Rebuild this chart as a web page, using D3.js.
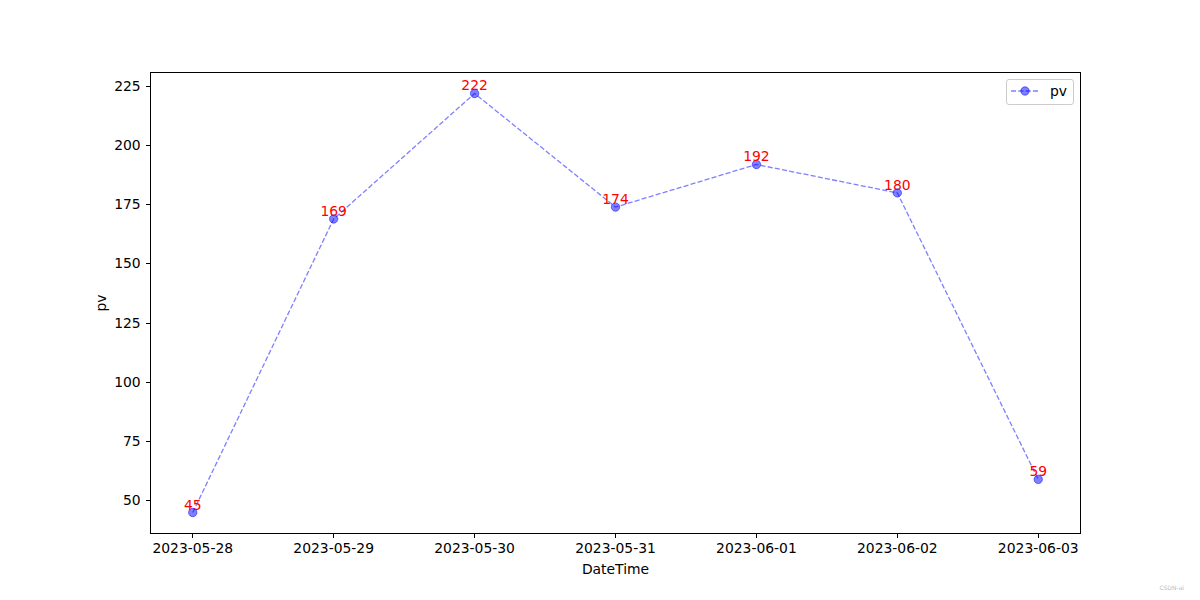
<!DOCTYPE html>
<html><head><meta charset="utf-8">
<script src="https://d3js.org/d3.v7.min.js"></script>
<style>body{margin:0;background:#fff}svg{display:block}text{font-family:"DejaVu Sans",sans-serif}</style>
</head><body>
<script>
const dates = ["2023-05-28","2023-05-29","2023-05-30","2023-05-31","2023-06-01","2023-06-02","2023-06-03"];
const pv = [45,169,222,174,192,180,59];
const yTicks = [50,75,100,125,150,175,200,225];
const seriesName = "pv";

const W=1200,H=600;
const L=150.5,R=1080.5,T=72.5,B=533.5;
const fs=13.9;
const svg=d3.select("body").append("svg").attr("width",W).attr("height",H);
const x=d3.scaleLinear().domain([-0.3,dates.length-1+0.3]).range([L,R]);
const ymin=d3.min(pv),ymax=d3.max(pv),pad=(ymax-ymin)*0.05;
const y=d3.scaleLinear().domain([ymin-pad,ymax+pad]).range([B,T]);

const xAxis=d3.axisBottom(x).tickValues(d3.range(dates.length)).tickFormat(i=>dates[i]).tickSize(4.9).tickPadding(4.9).offset(0);
const gx=svg.append("g").attr("transform",`translate(0,${B})`).call(xAxis);
const yAxis=d3.axisLeft(y).tickValues(yTicks).tickSize(4.9).tickPadding(4.9).offset(0);
const gy=svg.append("g").attr("transform",`translate(${L},0)`).call(yAxis);
[gx,gy].forEach(g=>{g.select(".domain").remove();g.selectAll("text").attr("font-size",fs).attr("fill","#000").attr("font-family","DejaVu Sans");g.selectAll("line").attr("stroke","#000").attr("stroke-width",1).attr("shape-rendering","crispEdges");});

svg.append("rect").attr("x",L).attr("y",T).attr("width",R-L).attr("height",B-T).attr("fill","none").attr("stroke","#000").attr("stroke-width",1).attr("shape-rendering","crispEdges");

const line=d3.line().x((d,i)=>x(i)).y(d=>y(d));
svg.append("path").datum(pv).attr("d",line).attr("fill","none").attr("stroke","blue").attr("stroke-opacity",0.5).attr("stroke-width",1.3).attr("stroke-dasharray","5.1,2.2");
svg.selectAll("circle.pt").data(pv).enter().append("circle").attr("class","pt").attr("cx",(d,i)=>x(i)).attr("cy",d=>y(d)).attr("r",4.2).attr("fill","blue").attr("fill-opacity",0.5).attr("stroke","blue").attr("stroke-opacity",0.5).attr("stroke-width",1);
svg.selectAll("text.lbl").data(pv).enter().append("text").attr("class","lbl").attr("x",(d,i)=>x(i)).attr("y",d=>y(d)-3).attr("text-anchor","middle").attr("font-size",fs).attr("fill","red").text(d=>d);

svg.append("text").attr("x",(L+R)/2).attr("y",574).attr("text-anchor","middle").attr("font-size",fs).text("DateTime");
svg.append("text").attr("transform",`translate(106,${(T+B)/2}) rotate(-90)`).attr("text-anchor","middle").attr("font-size",fs).text("pv");

// legend
const lg=svg.append("g");
lg.append("rect").attr("x",1006.5).attr("y",79.5).attr("width",67).attr("height",25).attr("rx",2.5).attr("fill","#fff").attr("fill-opacity",0.8).attr("stroke","#ccc").attr("stroke-width",1);
lg.append("line").attr("x1",1011).attr("x2",1039).attr("y1",91).attr("y2",91).attr("stroke","blue").attr("stroke-opacity",0.5).attr("stroke-width",1.3).attr("stroke-dasharray","5.1,2.2");
lg.append("circle").attr("cx",1025).attr("cy",91).attr("r",4.2).attr("fill","blue").attr("fill-opacity",0.5).attr("stroke","blue").attr("stroke-opacity",0.5);
lg.append("text").attr("x",1050).attr("y",96).attr("font-size",fs).text(seriesName);

svg.append("text").attr("x",1184).attr("y",590).attr("text-anchor","end").attr("font-size",6).attr("fill","#bbb").text("CSDN-ai");
</script>
</body></html>
